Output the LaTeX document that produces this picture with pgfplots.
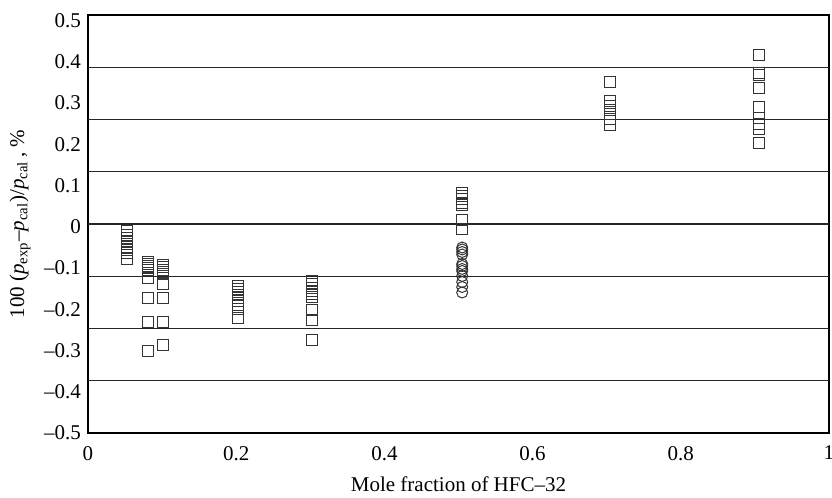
\documentclass[border=0pt]{standalone}
\usepackage{pgfplots}
\pgfplotsset{compat=1.18}
\usepackage{fontspec}
\setmainfont{Liberation Serif}
\pgfplotstableread{
x y
0.052 -0.0113
0.052 -0.0198
0.052 -0.0270
0.052 -0.0343
0.052 -0.0416
0.052 -0.0489
0.052 -0.0561
0.052 -0.0634
0.052 -0.0780
0.081 -0.0853
0.081 -0.0900
0.081 -0.0950
0.081 -0.0998
0.081 -0.1047
0.081 -0.1240
0.081 -0.1731
0.081 -0.2320
0.081 -0.3010
0.101 -0.0937
0.101 -0.0986
0.101 -0.1047
0.101 -0.1095
0.101 -0.1144
0.101 -0.1386
0.101 -0.1731
0.101 -0.2320
0.101 -0.2866
0.202 -0.1435
0.202 -0.1507
0.202 -0.1580
0.202 -0.1653
0.202 -0.1726
0.202 -0.1799
0.202 -0.1896
0.202 -0.1993
0.202 -0.2223
0.302 -0.1320
0.302 -0.1386
0.302 -0.1483
0.302 -0.1556
0.302 -0.1640
0.302 -0.1690
0.302 -0.2024
0.302 -0.2271
0.302 -0.2744
0.505 0.0814
0.505 0.0748
0.505 0.0676
0.505 0.0590
0.505 0.0530
0.505 0.0173
0.505 -0.0064
0.704 0.3513
0.704 0.3050
0.704 0.2928
0.704 0.2830
0.704 0.2736
0.704 0.2616
0.704 0.2480
0.905 0.4156
0.905 0.3731
0.905 0.3683
0.905 0.3360
0.905 0.2895
0.905 0.2628
0.905 0.2500
0.905 0.2380
0.905 0.2034
}\squares
\pgfplotstableread{
x y
0.505 -0.0501
0.505 -0.0549
0.505 -0.0610
0.505 -0.0671
0.505 -0.0901
0.505 -0.0950
0.505 -0.1022
0.505 -0.1071
0.505 -0.1192
0.505 -0.1338
0.505 -0.1459
0.505 -0.1592
}\circles
\begin{document}
\begin{tikzpicture}
\path[use as bounding box] (-44pt,-32.5pt) rectangle (372pt,216.5pt);
\begin{axis}[
  at={(0pt,0pt)}, anchor=south west,
  scale only axis, width=370.5pt, height=209pt,
  xmin=0, xmax=1, ymin=-0.5, ymax=0.5138,
  axis line style={line width=0.75pt},
  major tick length=0pt,
  xtick={0,0.2,0.4,0.6,0.8,1},
  xticklabels={0,0.2,0.4,0.6,0.8,1},
  ytick={0.5,0.4,0.3,0.2,0.1,0,-0.1,-0.2,-0.3,-0.4,-0.5},
  yticklabels={0.5,0.4,0.3,0.2,0.1,0,--0.1,--0.2,--0.3,--0.4,--0.5},
  extra y ticks={-0.3733,-0.2465,-0.1198,0.0069,0.1336,0.2604,0.3871},
  extra y tick labels={},
  extra y tick style={grid=major, major grid style={black!85, line width=0.55pt}, major tick length=0pt},
  tick label style={font=\fontsize{10.5}{12}\selectfont},
  xticklabel style={yshift=-3pt},
  label style={font=\fontsize{10.5}{12}\selectfont},
  xlabel={Mole fraction of HFC--32},
  xlabel style={at={(axis description cs:0.5,0)}, anchor=north, yshift=-18.5pt},
  ylabel={100 (\textit{p}\textsubscript{exp}--\textit{p}\textsubscript{cal})/\textit{p}\textsubscript{cal}\,, \%},
  ylabel style={at={(axis description cs:0,0.5)}, anchor=center, yshift=34pt},
  clip=false,
]
\addplot[only marks, mark=square, mark size=2.75pt, mark options={draw=black!80, line width=0.5pt, fill=none}] table[x=x,y=y] {\squares};
\addplot[only marks, mark=o, mark size=2.75pt, mark options={draw=black!80, line width=0.5pt, fill=none}] table[x=x,y=y] {\circles};
\end{axis}
\end{tikzpicture}
\end{document}
